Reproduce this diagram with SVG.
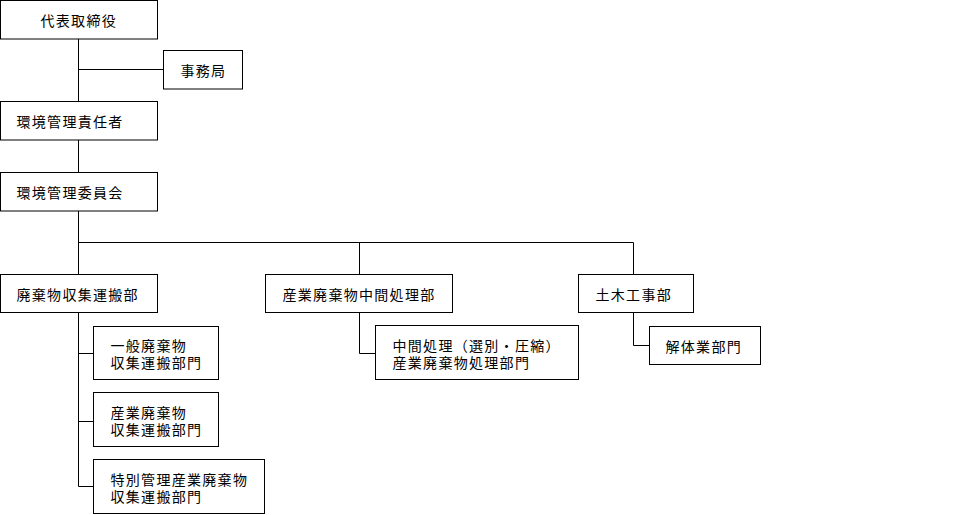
<svg xmlns="http://www.w3.org/2000/svg" width="960" height="515" viewBox="0 0 960 515">
<style>
rect{fill:#fff;stroke:#000;stroke-width:1}
.c path{fill:none;stroke:#000;stroke-width:1}
text{font-family:"Noto Sans CJK JP","Noto Sans CJK SC",sans-serif;font-size:14px;letter-spacing:1.3px;fill:#000}
</style>
<rect x="0" y="0" width="960" height="515" style="stroke:none"/>
<g class="c" id="connectors">
<path d="M78.5 39V101.5M78.5 69.5H163.5"/>
<path d="M78.5 139.5V172.5"/>
<path d="M78.5 210.5V274.5M78.5 242.5H633.5V274.5M359.5 242.5V274.5"/>
<path d="M78.5 312.5V486.5H93.5M78.5 353.5H93.5M78.5 421.5H93.5"/>
<path d="M359.5 312.5V353.5H375.5"/>
<path d="M633.5 312.5V345.5H649.5"/>
</g>
<g id="n1"><rect x="0.5" y="0.5" width="157" height="38.5"/><text x="40.5" y="25.5">代表取締役</text></g>
<g id="n2"><rect x="163.5" y="50.5" width="79" height="38.5"/><text x="180.5" y="75.5">事務局</text></g>
<g id="n3"><rect x="0.5" y="101.5" width="157" height="38.5"/><text x="16.5" y="126.5">環境管理責任者</text></g>
<g id="n4"><rect x="0.5" y="172.5" width="157" height="38.5"/><text x="16.5" y="197.5">環境管理委員会</text></g>
<g id="n5"><rect x="0.5" y="274.5" width="157" height="38"/><text x="16.5" y="299.5">廃棄物収集運搬部</text></g>
<g id="n6"><rect x="265.5" y="274.5" width="187" height="38"/><text x="282.5" y="299.5">産業廃棄物中間処理部</text></g>
<g id="n7"><rect x="578.5" y="274.5" width="115" height="38"/><text x="595.5" y="299.5">土木工事部</text></g>
<g id="n8"><rect x="93.5" y="326.5" width="125" height="53"/><text x="110.5" y="351">一般廃棄物</text><text x="110.5" y="368">収集運搬部門</text></g>
<g id="n9"><rect x="93.5" y="392.5" width="125" height="54"/><text x="110.5" y="418">産業廃棄物</text><text x="110.5" y="435">収集運搬部門</text></g>
<g id="n10"><rect x="93.5" y="459.5" width="171" height="54"/><text x="110.5" y="485">特別管理産業廃棄物</text><text x="110.5" y="502">収集運搬部門</text></g>
<g id="n11"><rect x="375.5" y="325.5" width="203" height="54"/><text x="392.5" y="350.5">中間処理（選別・圧縮）</text><text x="392.5" y="367.5">産業廃棄物処理部門</text></g>
<g id="n12"><rect x="649.5" y="326.5" width="111" height="38"/><text x="665.5" y="351.5">解体業部門</text></g>
</svg>
